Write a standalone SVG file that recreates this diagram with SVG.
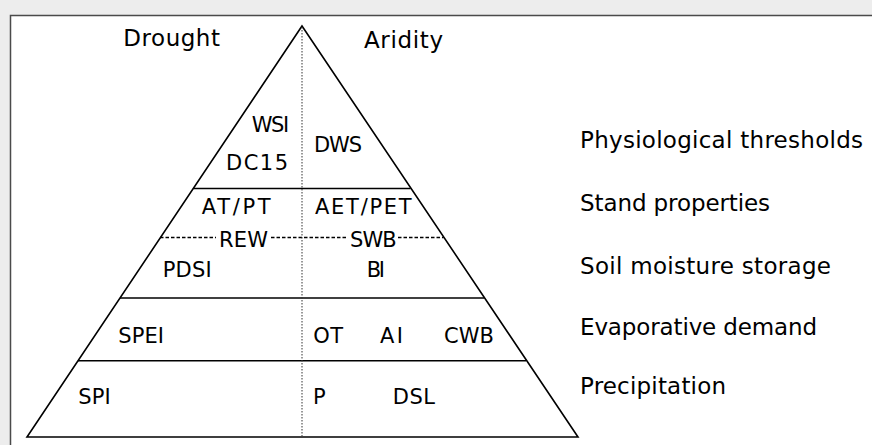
<svg xmlns="http://www.w3.org/2000/svg" width="872" height="445" viewBox="0 0 872 445">
<style>
text{font-family:"DejaVu Sans","Noto Sans",sans-serif;font-size:23px;fill:#000;}
.lab text{font-size:21px;}
.ln{stroke:#000;stroke-width:1.6;fill:none;}
.dash{stroke:#000;stroke-width:1.3;stroke-dasharray:3.5 2;fill:none;}
.dot{stroke:#333;stroke-width:1;stroke-dasharray:1.5 1.5;fill:none;}
</style>
<rect x="0" y="0" width="872" height="445" fill="#ededed"/>
<rect x="10.5" y="15.5" width="900" height="500" fill="#ffffff" stroke="#4a4a4a" stroke-width="1.5"/>
<g id="connectors">
<polygon class="ln" points="302,26 578,437 27,437"/>
<line class="ln" x1="193.5" y1="188.5" x2="410.5" y2="188.5"/>
<line class="ln" x1="120" y1="298" x2="484" y2="298"/>
<line class="ln" x1="78" y1="360.7" x2="526" y2="360.7"/>
<line class="dash" x1="160" y1="237.5" x2="216" y2="237.5"/>
<line class="dash" x1="271" y1="237.5" x2="347" y2="237.5"/>
<line class="dash" x1="398" y1="237.5" x2="443.5" y2="237.5"/>
<line class="dot" x1="302" y1="27" x2="302" y2="436"/>
</g>
<g id="header-drought"><text x="123.3" y="45.7" textLength="96.7" lengthAdjust="spacing">Drought</text></g>
<g id="header-aridity"><text x="364" y="48" textLength="79" lengthAdjust="spacing">Aridity</text></g>
<g class="lab">
<g id="n-wsi"><text x="251.7" y="131.7" textLength="37.6" lengthAdjust="spacing">WSI</text></g>
<g id="n-dc15"><text x="226" y="170" textLength="62" lengthAdjust="spacing">DC15</text></g>
<g id="n-dws"><text x="314" y="152.3" textLength="48" lengthAdjust="spacing">DWS</text></g>
<g id="n-atpt"><text x="201.7" y="214.3" textLength="69" lengthAdjust="spacing">AT/PT</text></g>
<g id="n-aetpet"><text x="315" y="214.3" textLength="96.7" lengthAdjust="spacing">AET/PET</text></g>
<g id="n-rew"><text x="219" y="246.7" textLength="49" lengthAdjust="spacing">REW</text></g>
<g id="n-swb"><text x="350" y="246.7" textLength="46.7" lengthAdjust="spacing">SWB</text></g>
<g id="n-pdsi"><text x="162.7" y="277.3" textLength="49" lengthAdjust="spacing">PDSI</text></g>
<g id="n-bi"><text x="366.7" y="277.3" textLength="18.3" lengthAdjust="spacing">BI</text></g>
<g id="n-spei"><text x="118.3" y="342.7" textLength="45.7" lengthAdjust="spacing">SPEI</text></g>
<g id="n-ot"><text x="313.3" y="342.7" textLength="29.7" lengthAdjust="spacing">OT</text></g>
<g id="n-ai"><text x="380" y="342.7" textLength="23" lengthAdjust="spacing">AI</text></g>
<g id="n-cwb"><text x="444" y="342.7" textLength="50" lengthAdjust="spacing">CWB</text></g>
<g id="n-spi"><text x="78.3" y="404.3" textLength="32.4" lengthAdjust="spacing">SPI</text></g>
<g id="n-p"><text x="313" y="404.3">P</text></g>
<g id="n-dsl"><text x="392.7" y="404.3" textLength="42.3" lengthAdjust="spacing">DSL</text></g>
</g>
<g id="lvl-physiological"><text x="580" y="148.3" textLength="283" lengthAdjust="spacing">Physiological thresholds</text></g>
<g id="lvl-stand"><text x="580" y="211" textLength="190" lengthAdjust="spacing">Stand properties</text></g>
<g id="lvl-soil"><text x="580" y="274" textLength="251" lengthAdjust="spacing">Soil moisture storage</text></g>
<g id="lvl-evap"><text x="580" y="335" textLength="237" lengthAdjust="spacing">Evaporative demand</text></g>
<g id="lvl-precip"><text x="580" y="394" textLength="146" lengthAdjust="spacing">Precipitation</text></g>
</svg>
